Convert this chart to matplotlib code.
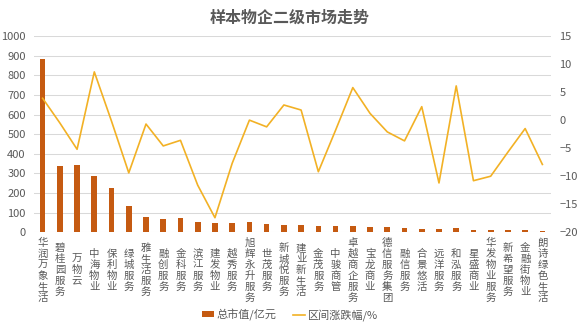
import matplotlib.pyplot as plt
import numpy as np

plt.rcParams['font.family'] = ['Noto Sans CJK SC', 'DejaVu Sans']

companies = ["华润万象生活", "碧桂园服务", "万物云", "中海物业", "保利物业", "绿城服务",
             "雅生活服务", "融创服务", "金科服务", "滨江服务", "建发物业", "越秀服务",
             "旭辉永升服务", "世茂服务", "新城悦服务", "建业新生活", "金茂服务", "中骏商管",
             "卓越商企服务", "宝龙商业", "德信服务集团", "融信服务", "合景悠活", "远洋服务",
             "和泓服务", "星盛商业", "华发物业服务", "新希望服务", "金融街物业", "朗诗绿色生活"]

# total market value, 100 million yuan
market_value = [883, 338, 343, 287, 224, 134, 76, 70, 75, 55, 46, 46, 51, 41, 37,
                37, 32, 32, 33, 27, 25, 20, 15, 15, 20, 14, 10, 13, 10, 7]

# price change over the period, %
price_change = [3.9, -0.5, -5.2, 8.6, -0.2, -9.4, -0.7, -4.6, -3.6, -11.6, -17.4, -7.7,
                0.0, -1.2, 2.7, 1.8, -9.2, -1.8, 5.8, 1.2, -2.1, -3.7, 2.4, -11.2,
                6.1, -10.8, -10.0, -5.7, -1.5, -7.9]

bar_color = "#C55A11"
line_color = "#F2B125"
text_color = "#595959"

fig = plt.figure(figsize=(5.8, 3.26), dpi=100)
ax = fig.add_axes([0.0586, 0.2874, 0.8914, 0.6022])
ax2 = ax.twinx()

x = np.arange(len(companies))
ax.bar(x, market_value, width=0.33, color=bar_color, zorder=2, label="总市值/亿元")
ax2.plot(x, price_change, color=line_color, linewidth=1.2, label="区间涨跌幅/%")

ax.set_xlim(-0.5, len(companies) - 0.5)
ax.set_ylim(0, 1000)
ax.set_yticks(range(0, 1001, 100))
ax2.set_ylim(-20, 15)
ax2.set_yticks(range(-20, 16, 5))
ax2.set_yticklabels([str(v).replace('-', '−') for v in range(-20, 16, 5)])

ax.grid(axis='y', color="#D9D9D9", linewidth=0.75, zorder=0)
for a in (ax, ax2):
    for s in a.spines.values():
        s.set_visible(False)
    a.tick_params(length=0, labelsize=8, colors=text_color)
ax.tick_params(axis='y', pad=6)
ax2.tick_params(axis='y', pad=6)

# stacked category labels, centred vertically like the original
ax.set_xticks(x)
ax.set_xticklabels([])
for i, name in enumerate(companies):
    n = len(name)
    for j, ch in enumerate(name):
        ax.annotate(ch, xy=(i, 0), xycoords=('data', 'axes fraction'),
                    xytext=(0, -38 - (j - (n - 1) / 2) * 11), textcoords='offset pixels',
                    ha='center', va='center', fontsize=7.5, color=text_color)

fig.text(0.5, 0.945, "样本物企二级市场走势", ha='center', va='center',
         fontsize=11.5, color=text_color, fontweight='bold')

h1, l1 = ax.get_legend_handles_labels()
h2, l2 = ax2.get_legend_handles_labels()
fig.legend(h1 + h2, l1 + l2, loc='center', bbox_to_anchor=(0.5, 0.035), ncol=2,
           frameon=False, fontsize=8, labelcolor=text_color, handlelength=1.1,
           handleheight=0.5, columnspacing=1.5, handletextpad=0.2)

fig.savefig("out.png", dpi=100)
